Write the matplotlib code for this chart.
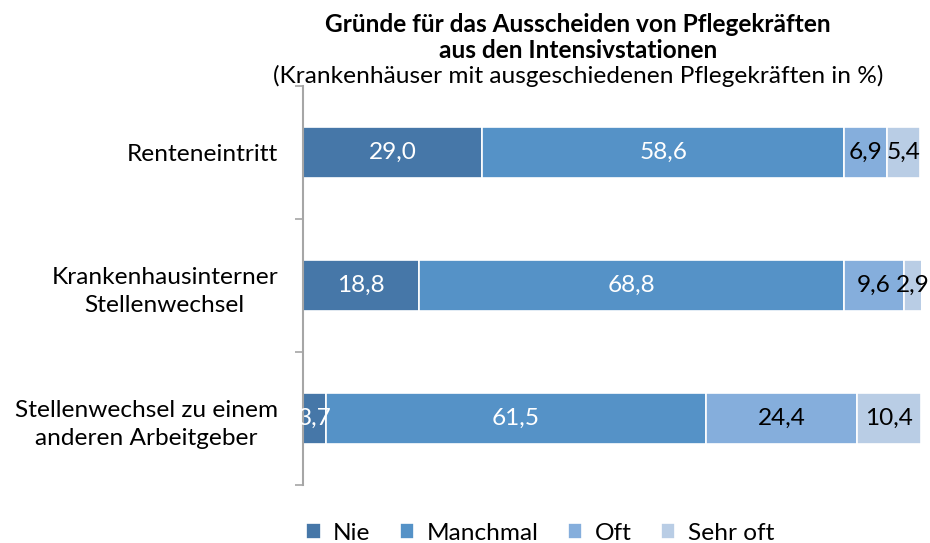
import matplotlib.pyplot as plt
import numpy as np

plt.rcParams['font.family'] = ['Lato', 'DejaVu Sans']

# ------------------------------
# data
# ------------------------------
categories = ["Renteneintritt",
              "Krankenhausinterner\nStellenwechsel",
              "Stellenwechsel zu einem\nanderen Arbeitgeber"]
series_names = ["Nie", "Manchmal", "Oft", "Sehr oft"]
nie = [29.0, 18.8, 3.7]
manchmal = [58.6, 68.8, 61.5]
oft = [6.9, 9.6, 24.4]
sehr_oft = [5.4, 2.9, 10.4]

colors = ["#4677A8", "#5592C7", "#85AEDC", "#B9CDE5"]
label_colors = ["white", "white", "black", "black"]

FS = 17.6

fig = plt.figure(figsize=(9.3, 5.43), dpi=100)
ax = fig.add_axes([303 / 930, 1 - 485 / 543, 618 / 930, 399 / 543])

y = np.arange(len(categories))
left = np.zeros(len(categories))
handles = []
for name, vals, col, lc in zip(series_names, [nie, manchmal, oft, sehr_oft], colors, label_colors):
    vals = np.array(vals)
    bars = ax.barh(y, vals, left=left, height=0.39, color=col,
                   edgecolor="white", linewidth=1.2, label=name)
    handles.append(bars)
    for yi, l, v in zip(y, left, vals):
        ax.text(l + v / 2, yi, f"{v:.1f}".replace(".", ","), ha="center", va="center",
                color=lc, fontsize=FS)
    left += vals

ax.set_xlim(0, 100)
ax.set_ylim(len(categories) - 0.5, -0.5)

# category axis: ticks between categories, labels at centres
ax.set_yticks(np.arange(-0.5, len(categories), 1.0))
ax.set_yticklabels([])
ax.set_yticks(y, minor=True)
ax.set_yticklabels(categories, minor=True, fontsize=FS, ha="right")
ax.tick_params(axis="y", which="major", length=6, width=1.2, color="#A6A6A6", direction="out")
ax.tick_params(axis="y", which="minor", length=0, pad=18)
for t in ax.get_yticklabels(minor=True):
    t.set_multialignment("center")
    t.set_linespacing(1.45)

ax.set_xticks([])
for s in ["top", "right", "bottom"]:
    ax.spines[s].set_visible(False)
ax.spines["left"].set_color("#A6A6A6")
ax.spines["left"].set_linewidth(1.5)

# title
cx = 578 / 930
fig.text(cx, 1 - 32 / 543, "Gründe für das Ausscheiden von Pflegekräften",
         ha="center", va="baseline", fontsize=FS, fontweight="bold")
fig.text(cx, 1 - 58 / 543, "aus den Intensivstationen",
         ha="center", va="baseline", fontsize=FS, fontweight="bold")
fig.text(cx, 1 - 83 / 543, "(Krankenhäuser mit ausgeschiedenen Pflegekräften in %)",
         ha="center", va="baseline", fontsize=FS)

fig.legend(handles=handles, labels=series_names, loc="center", ncol=4,
           bbox_to_anchor=(540 / 930, 1 - 533 / 543), frameon=False, fontsize=FS,
           handlelength=0.6, handleheight=0.6, handletextpad=0.5, columnspacing=1.2,
           borderpad=0)

fig.savefig("out.png", dpi=100)
